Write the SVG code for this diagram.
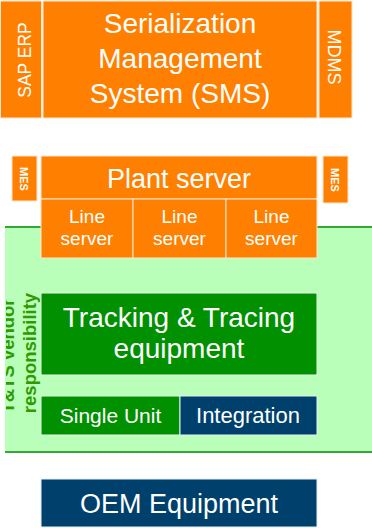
<svg xmlns="http://www.w3.org/2000/svg" width="372" height="528" viewBox="0 0 372 528">
<defs>
<style>
.or{fill:#FF8000;stroke:#FFE6CC;stroke-width:1}
.gr{fill:#009000;stroke:#E6FFE6;stroke-width:1}
.bl{fill:#00406C;stroke:#E6EEF5;stroke-width:1}
.t{font-family:"Liberation Sans",Arial,sans-serif;fill:#FFFFFF;text-anchor:middle}
.vt{font-family:"Liberation Sans",Arial,sans-serif;fill:#2F9B00;font-weight:bold;text-anchor:middle;font-size:18.5px}
.ln{stroke:#33A833;stroke-width:2;fill:none}
</style>
<clipPath id="vclip"><rect x="6" y="228" width="60" height="224"/></clipPath>
</defs>
<rect x="0" y="0" width="372" height="528" fill="#FFFFFF"/>

<g id="responsibility-zone">
<rect x="5" y="227" width="367" height="225" fill="#B9FFB9"/>
<line class="ln" x1="5" y1="227" x2="372" y2="227"/>
<line class="ln" x1="5" y1="452" x2="372" y2="452"/>
<g clip-path="url(#vclip)">
<text class="vt" transform="translate(14,356) rotate(-90)">T&amp;TS vendor</text>
</g>
<text class="vt" transform="translate(36,353) rotate(-90)">responsibility</text>
</g>

<g id="sap-erp">
<rect class="or" x="0.5" y="1" width="41" height="117"/>
<text class="t" font-size="17.5" transform="translate(31,60) rotate(-90)">SAP ERP</text>
</g>
<g id="sms">
<rect class="or" x="43" y="1" width="274" height="117"/>
<text class="t" font-size="28" x="180" y="33">Serialization</text>
<text class="t" font-size="28" x="180" y="68">Management</text>
<text class="t" font-size="28" x="180" y="103">System (SMS)</text>
</g>
<g id="mdms">
<rect class="or" x="319" y="1" width="33" height="117"/>
<text class="t" font-size="18" transform="translate(328,57) rotate(90)">MDMS</text>
</g>

<g id="mes-left">
<rect class="or" x="12" y="156" width="25" height="45"/>
<text class="t" font-size="11" font-weight="bold" transform="translate(20,179) rotate(90)">MES</text>
</g>
<g id="plant-server">
<rect class="or" x="41" y="156" width="276" height="43"/>
<text class="t" font-size="27" x="179" y="188">Plant server</text>
</g>
<g id="mes-right">
<rect class="or" x="323" y="156" width="25" height="47"/>
<text class="t" font-size="11" font-weight="bold" transform="translate(331,180) rotate(90)">MES</text>
</g>

<g id="line-server-1">
<rect class="or" x="41" y="199" width="92" height="59"/>
<text class="t" font-size="19" x="87" y="223">Line</text>
<text class="t" font-size="19" x="87" y="245">server</text>
</g>
<g id="line-server-2">
<rect class="or" x="133" y="199" width="93" height="59"/>
<text class="t" font-size="19" x="179.5" y="223">Line</text>
<text class="t" font-size="19" x="179.5" y="245">server</text>
</g>
<g id="line-server-3">
<rect class="or" x="226" y="199" width="91" height="59"/>
<text class="t" font-size="19" x="271.5" y="223">Line</text>
<text class="t" font-size="19" x="271.5" y="245">server</text>
</g>

<g id="tt-equipment">
<rect class="gr" x="41" y="293" width="276" height="82"/>
<text class="t" font-size="28" x="179" y="327">Tracking &amp; Tracing</text>
<text class="t" font-size="28" x="179" y="358">equipment</text>
</g>
<g id="single-unit">
<rect class="gr" x="41" y="396" width="139" height="39"/>
<text class="t" font-size="21" x="110.5" y="423">Single Unit</text>
</g>
<g id="integration">
<rect class="bl" x="180" y="396" width="137" height="39"/>
<text class="t" font-size="22" x="248" y="423">Integration</text>
</g>

<g id="oem-equipment">
<rect class="bl" x="41" y="479" width="276" height="48"/>
<text class="t" font-size="27" x="179" y="513">OEM Equipment</text>
</g>

<g id="connectors"></g>
</svg>
